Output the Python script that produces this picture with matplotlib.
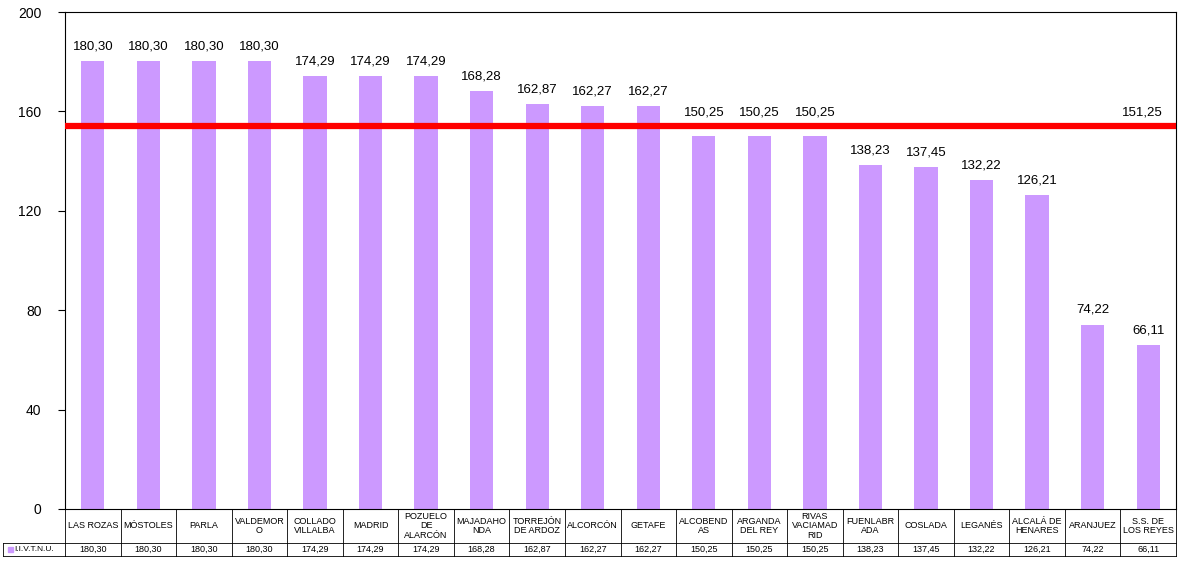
import matplotlib.pyplot as plt
import matplotlib.transforms as mtransforms
import numpy as np

names = ['LAS ROZAS', 'MÓSTOLES', 'PARLA', 'VALDEMOR\nO', 'COLLADO\nVILLALBA', 'MADRID',
         'POZUELO\nDE\nALARCÓN', 'MAJADAHO\nNDA', 'TORREJÓN\nDE ARDOZ', 'ALCORCÓN', 'GETAFE',
         'ALCOBEND\nAS', 'ARGANDA\nDEL REY', 'RIVAS\nVACIAMAD\nRID', 'FUENLABR\nADA', 'COSLADA',
         'LEGANÉS', 'ALCALÁ DE\nHENARES', 'ARANJUEZ', 'S.S. DE\nLOS REYES']
values = [180.30, 180.30, 180.30, 180.30, 174.29, 174.29, 174.29, 168.28, 162.87, 162.27,
          162.27, 150.25, 150.25, 150.25, 138.23, 137.45, 132.22, 126.21, 74.22, 66.11]
series_name = 'I.I.V.T.N.U.'
avg_label = 151.25
avg_line = 154  # as drawn in the picture
yticks = [0, 40, 80, 120, 160, 200]

def fmt(v):
    return f'{v:.2f}'.replace('.', ',')

plt.rcParams['font.family'] = ['Liberation Sans', 'DejaVu Sans']
purple = '#CC99FF'

fig = plt.figure(figsize=(11.8, 5.61), dpi=100)
ax = fig.add_axes([65/1180, 1 - 509/561, 1111/1180, 497/561])

x = np.arange(len(values))
ax.bar(x, values, width=0.42, color=purple, zorder=2)
for xi, v in zip(x, values):
    y = v + 3.5
    # labels that would sit on the red line are pushed above it
    if avg_line - 8 < y < avg_line + 3:
        y = avg_line + 3
    ax.text(xi, y, fmt(v), ha='center', va='bottom', fontsize=9.5, zorder=4)

ax.axhline(avg_line, xmin=0.003, xmax=1, color='#FF0000', lw=4.5, zorder=3)
ax.text(len(values) - 1.1, avg_line + 3, fmt(avg_label), ha='center', va='bottom', fontsize=9.5)

ax.set_xlim(-0.5, len(values) - 0.5)
ax.set_ylim(0, 200)
ax.set_yticks(yticks)
ax.set_yticklabels([str(t) for t in yticks], fontsize=10)
ax.set_xticks([])
ax.tick_params(axis='y', length=5, width=0.8, pad=12)
for s in ax.spines.values():
    s.set_linewidth(0.8)
    s.set_color('black')

# data table below the axis
trans = mtransforms.blended_transform_factory(ax.transData, fig.transFigure)
y_top = 1 - 509/561
y_mid = 1 - 543/561
y_bot = 1 - 556/561
lw = 0.6
for b in np.arange(-0.5, len(values), 1.0):
    ax.plot([b, b], [y_top, y_bot], transform=trans, color='black', lw=lw, clip_on=False)
ax.plot([-0.5, len(values) - 0.5], [y_mid, y_mid], transform=trans, color='black', lw=lw, clip_on=False)
ax.plot([-0.5, len(values) - 0.5], [y_bot, y_bot], transform=trans, color='black', lw=lw, clip_on=False)
# row header cell
fig.add_artist(plt.Line2D([3/1180, 65/1180], [y_mid, y_mid], color='black', lw=lw))
fig.add_artist(plt.Line2D([3/1180, 65/1180], [y_bot, y_bot], color='black', lw=lw))
fig.add_artist(plt.Line2D([3/1180, 3/1180], [y_mid, y_bot], color='black', lw=lw))
fig.add_artist(plt.Rectangle((8/1180, 1 - 552/561), 5/1180, 5/561, color=purple))
fig.text(14/1180, (y_mid + y_bot) / 2, series_name, fontsize=6, va='center', ha='left')

for xi, n, v in zip(x, names, values):
    ax.text(xi, (y_top + y_mid) / 2, n, transform=trans, ha='center', va='center',
            fontsize=6.5, linespacing=1.05)
    ax.text(xi, (y_mid + y_bot) / 2, fmt(v), transform=trans, ha='center', va='center', fontsize=6.5)

fig.savefig('out.png', dpi=100)
